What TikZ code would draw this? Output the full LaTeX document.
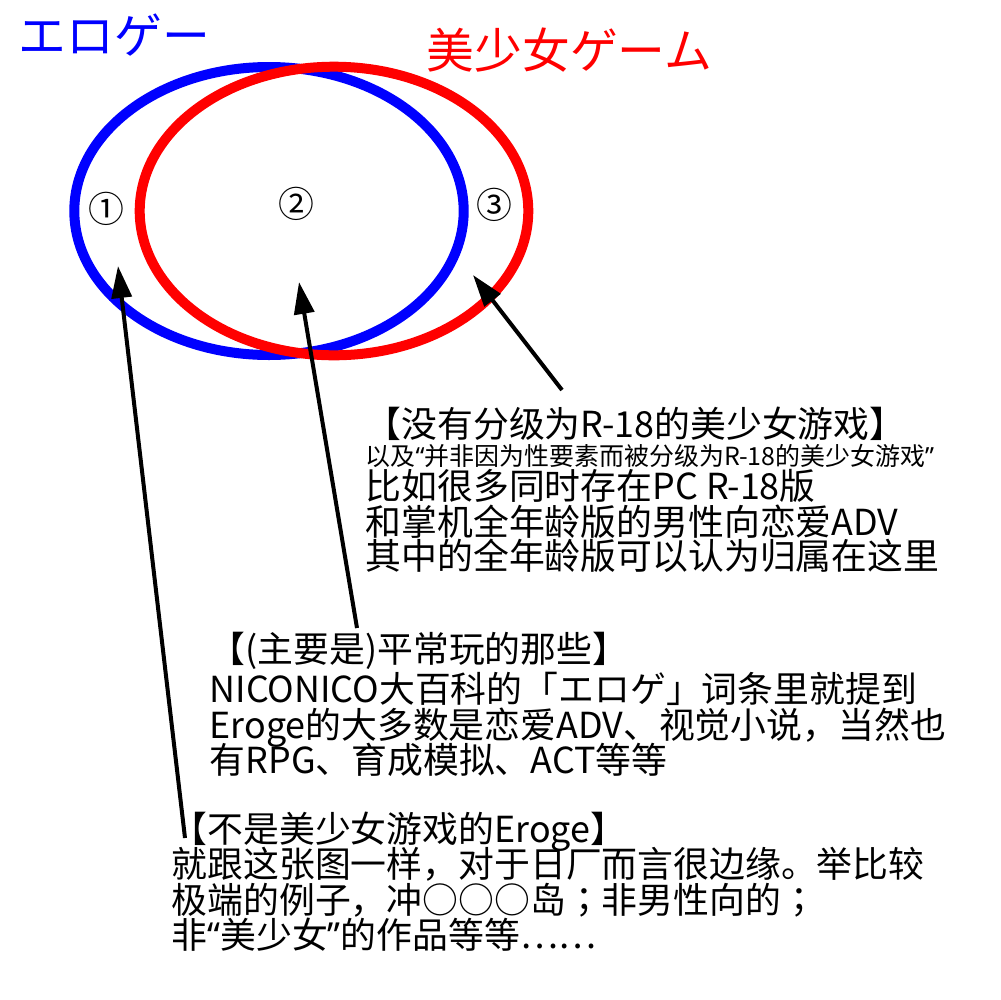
\documentclass[tikz,border=0pt]{standalone}
\usepackage{fontspec}
\setmainfont{Noto Sans CJK SC}
\newfontfamily\quotefont{Noto Sans}
\newfontfamily\jpfont{Noto Sans CJK JP}
\newcommand{\openq}{{\quotefont “}}
\newcommand{\closeq}{{\quotefont ”}}
\newcommand{\semi}{{\jpfont ；}}
\usetikzlibrary{arrows.meta}

\tikzset{
    txt/.style={anchor=base west, inner sep=0pt, font=\fontsize{10.2pt}{12pt}\selectfont},
    smalltxt/.style={anchor=base west, inner sep=0pt, font=\fontsize{7.1pt}{8.4pt}\selectfont},
    settitle/.style={anchor=base west, inner sep=0pt, font=\fontsize{13.6pt}{16pt}\selectfont},
    regnum/.style={inner sep=0pt, font=\fontsize{10.2pt}{12pt}\selectfont},
    pointer/.style={-{Triangle[length=3.2mm,width=2mm]}, line width=0.4mm, black},
    ring/.style={line width=1mm}
}

\begin{document}
\begin{tikzpicture}[x=0.1mm, y=-0.1mm]
    \useasboundingbox (0,0) rectangle (1000,1000);

    % Sets
    \draw[ring, blue] (269,211) ellipse [x radius=19.47mm, y radius=14.4mm];
    \draw[ring, red] (334,211) ellipse [x radius=19.43mm, y radius=14.43mm];
    \node[settitle, text=blue] (eroge) at (18,53) {エロゲー};
    \node[settitle, text=red] (bishoujo) at (426,68) {美少女ゲーム};

    % Regions
    \node[regnum] (reg1) at (106,209) {①};
    \node[regnum] (reg2) at (296,204) {②};
    \node[regnum] (reg3) at (494,205) {③};

    % Notes for region 3
    \node[txt] (note3) at (365,437) {【没有分级为R-18的美少女游戏】};
    \node[smalltxt] (note3a) at (365,465) {以及\openq 并非因为性要素而被分级为R-18的美少女游戏\closeq};
    \node[txt] (note3b) at (365,499) {比如很多同时存在PC R-18版};
    \node[txt] (note3c) at (365,535) {和掌机全年龄版的男性向恋爱ADV};
    \node[txt] (note3d) at (365,569) {其中的全年龄版可以认为归属在这里};

    % Notes for region 2
    \node[txt] (note2) at (209,662) {【(主要是)平常玩的那些】};
    \node[txt] (note2a) at (209,702) {NICONICO大百科的「エロゲ」词条里就提到};
    \node[txt] (note2b) at (209,738) {Eroge的大多数是恋爱ADV、视觉小说，当然也};
    \node[txt] (note2c) at (209,773) {有RPG、育成模拟、ACT等等};

    % Notes for region 1
    \node[txt] (note1) at (171,842) {【不是美少女游戏的Eroge】};
    \node[txt] (note1a) at (171,877) {就跟这张图一样，对于日厂而言很边缘。举比较};
    \node[txt] (note1b) at (171,913) {极端的例子，冲○○○岛\semi 非男性向的\semi};
    \node[txt] (note1c) at (171,948) {非\openq 美少女\closeq 的作品等等……};

    % Arrows
    \coordinate (tail1) at (185,838);
    \coordinate (tip1) at (118,266);
    \coordinate (tail2) at (357,628);
    \coordinate (tip2) at (299,282);
    \coordinate (tail3) at (562,390);
    \coordinate (tip3) at (473,275);
    \draw[pointer] (tail1) -- (tip1);
    \draw[pointer] (tail2) -- (tip2);
    \draw[pointer] (tail3) -- (tip3);
\end{tikzpicture}
\end{document}
